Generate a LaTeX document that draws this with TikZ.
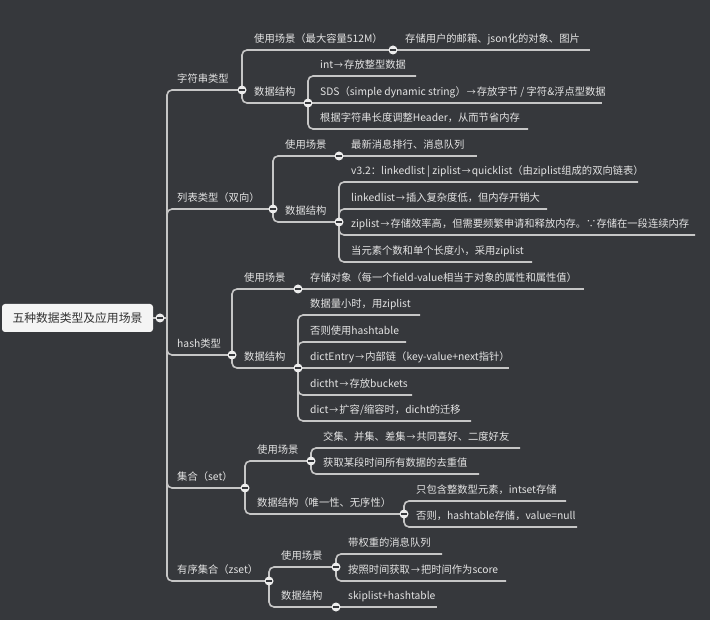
\documentclass[tikz,border=0pt]{standalone}
\usepackage{fontspec}
\setmainfont{Noto Sans CJK SC}
\definecolor{bg}{HTML}{36383C}
\definecolor{ln}{HTML}{C6C6C6}
\definecolor{tx}{HTML}{E4E4E4}
\definecolor{foldc}{HTML}{ECECEC}
\definecolor{rootfill}{HTML}{F4F4F4}
\definecolor{roottx}{HTML}{333333}
\newcommand{\arr}{\kern1pt{\fontsize{9}{10}\selectfont →}\kern1pt}
% #1 name, #2 parent point, #3 text x, #4 underline y, #5 underline end x, #6 text
\newcommand{\mmleaf}[6]{%
  \node[txt] (#1) at (#3,#4-7.5) {#6};
  \coordinate (#1e) at (#5,#4);
  \draw[branch] (#2.center) |- (#1e);
}
\newcommand{\mmstraight}[6]{%
  \node[txt] (#1) at (#3,#4-7.5) {#6};
  \coordinate (#1e) at (#5,#4);
  \draw[branch] (#2.center) -- (#1e);
}
\begin{document}
\begin{tikzpicture}[x=1pt,y=-1pt,
  txt/.style={anchor=base west, inner sep=0pt, text=tx, font=\fontsize{10.3}{12}\selectfont},
  branch/.style={draw=ln, line width=1.6pt, rounded corners=5pt},
  rootbox/.style={rectangle, rounded corners=3pt, fill=rootfill, text=roottx,
    minimum width=151pt, minimum height=28pt, inner sep=0pt, font=\fontsize{11.8}{13}\selectfont},
  fold/.style={circle, fill=foldc, minimum size=9pt, inner sep=0pt,
    path picture={\draw[bg, line width=1.3pt] ([xshift=-2.6pt]path picture bounding box.center) -- ([xshift=2.6pt]path picture bounding box.center);}}
]
\fill[bg] (0,0) rectangle (710,620);
\useasboundingbox (0,0) rectangle (710,620);

% collapse points
\coordinate (rc) at (160,318);
\coordinate (trunk) at (167,318);
\coordinate (sc) at (242,90);
\coordinate (suc) at (393,50);
\coordinate (sdc) at (308,103);
\coordinate (lc) at (273,209);
\coordinate (luc) at (339,156);
\coordinate (ldc) at (339,222);
\coordinate (hc) at (232,355);
\coordinate (huc) at (298,289);
\coordinate (hdc) at (298,368);
\coordinate (tc) at (245,488);
\coordinate (tuc) at (311,461);
\coordinate (tdc) at (404,514);
\coordinate (zc) at (269,581);
\coordinate (zuc) at (336,567);
\coordinate (zdc) at (336,607);

% root
\node[rootbox] (root) at (77.5,318) {五种数据类型及应用场景};
\draw[branch] (root.east) -- (rc.center) -- (trunk);

% level 1
\mmleaf{s}{trunk}{177}{90}{242}{字符串类型}
\mmleaf{l}{trunk}{177}{209}{273}{列表类型（双向）}
\mmleaf{h}{trunk}{177}{355}{232}{hash类型}
\mmleaf{t}{trunk}{177}{488}{245}{集合（set）}
\mmleaf{z}{trunk}{177}{581}{269}{有序集合（zset）}

% string
\mmleaf{su}{sc}{254}{50}{393}{使用场景（最大容量512M）}
\mmleaf{sd}{sc}{254}{103}{308}{数据结构}
\mmstraight{su1}{suc}{405}{50}{590}{存储用户的邮箱、json化的对象、图片}
\mmleaf{sd1}{sdc}{320}{76}{416}{int\arr 存放整型数据}
\mmstraight{sd2}{sdc}{320}{103}{602}{SDS（simple dynamic string）\arr 存放字节 / 字符\&浮点型数据}
\mmleaf{sd3}{sdc}{320}{129}{528}{根据字符串长度调整Header，从而节省内存}

% list
\mmleaf{lu}{lc}{285}{156}{339}{使用场景}
\mmleaf{ld}{lc}{285}{222}{339}{数据结构}
\mmstraight{lu1}{luc}{351}{156}{477}{最新消息排行、消息队列}
\mmleaf{ld1}{ldc}{351}{182}{638}{v3.2：linkedlist | ziplist\arr quicklist（由ziplist组成的双向链表）}
\mmleaf{ld2}{ldc}{351}{209}{547}{linkedlist\arr 插入复杂度低，但内存开销大}
\mmleaf{ld3}{ldc}{351}{235}{695}{ziplist\arr 存储效率高，但需要频繁申请和释放内存。∵存储在一段连续内存}
\mmleaf{ld4}{ldc}{351}{262}{532}{当元素个数和单个长度小，采用ziplist}

% hash
\mmleaf{hu}{hc}{244}{289}{298}{使用场景}
\mmleaf{hd}{hc}{244}{368}{298}{数据结构}
\mmstraight{hu1}{huc}{310}{289}{584}{存储对象（每一个field-value相当于对象的属性和属性值）}
\mmleaf{hd1}{hdc}{310}{315}{420}{数据量小时，用ziplist}
\mmleaf{hd2}{hdc}{310}{342}{406}{否则使用hashtable}
\mmstraight{hd3}{hdc}{310}{368}{509}{dictEntry\arr 内部链（key-value+next指针）}
\mmleaf{hd4}{hdc}{310}{395}{412}{dictht\arr 存放buckets}
\mmleaf{hd5}{hdc}{310}{421}{471}{dict\arr 扩容/缩容时，dicht的迁移}

% set
\mmleaf{tu}{tc}{257}{461}{311}{使用场景}
\mmleaf{td}{tc}{257}{514}{404}{数据结构（唯一性、无序性）}
\mmleaf{tu1}{tuc}{323}{448}{520}{交集、并集、差集\arr 共同喜好、二度好友}
\mmleaf{tu2}{tuc}{323}{474}{479}{获取某段时间所有数据的去重值}
\mmleaf{td1}{tdc}{416}{501}{566}{只包含整数型元素，intset存储}
\mmleaf{td2}{tdc}{416}{527}{577}{否则，hashtable存储，value=null}

% zset
\mmleaf{zu}{zc}{281}{567}{336}{使用场景}
\mmleaf{zd}{zc}{281}{607}{336}{数据结构}
\mmleaf{zu1}{zuc}{348}{554}{442}{带权重的消息队列}
\mmleaf{zu2}{zuc}{348}{581}{506}{按照时间获取\arr 把时间作为score}
\mmstraight{zd1}{zdc}{348}{607}{437}{skiplist+hashtable}

% fold markers
\foreach \c in {rc,sc,suc,sdc,lc,luc,ldc,hc,huc,hdc,tc,tuc,tdc,zc,zuc,zdc}
  \node[fold] (\c-f) at (\c) {};
\end{tikzpicture}
\end{document}
